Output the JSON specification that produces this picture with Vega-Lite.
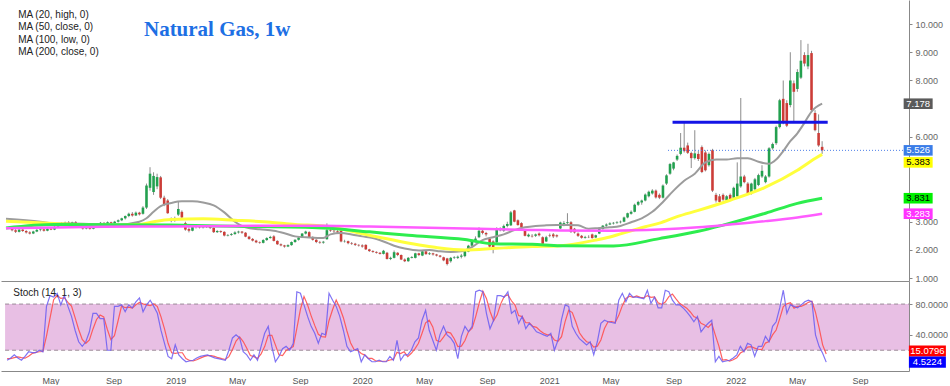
{
"$schema":"https://vega.github.io/schema/vega-lite/v6.json",
"padding":0,"spacing":0,"bounds":"flush",
"config":{"view":{"stroke":null},"axis":{"labelFont":"Liberation Sans","grid":false},"text":{"font":"Liberation Sans"}},
"datasets":{
"px":[
{"d":"2018-02-05","o":2.74,"h":2.78,"l":2.66,"c":2.70,"k":7,"s":9},
{"d":"2018-02-12","o":2.70,"h":2.74,"l":2.60,"c":2.64,"k":10,"s":9},
{"d":"2018-02-19","o":2.64,"h":2.76,"l":2.62,"c":2.72,"k":14,"s":10.3},
{"d":"2018-02-26","o":2.72,"h":2.75,"l":2.64,"c":2.67,"k":10,"s":11.3},
{"d":"2018-03-05","o":2.67,"h":2.70,"l":2.58,"c":2.62,"k":7,"s":10.3},
{"d":"2018-03-12","o":2.62,"h":2.66,"l":2.55,"c":2.58,"k":12,"s":9.7},
{"d":"2018-03-19","o":2.58,"h":2.68,"l":2.56,"c":2.65,"k":18,"s":12.3},
{"d":"2018-03-26","o":2.65,"h":2.74,"l":2.63,"c":2.71,"k":17,"s":15.7},
{"d":"2018-04-02","o":2.71,"h":2.76,"l":2.66,"c":2.73,"k":17,"s":17.3},
{"d":"2018-04-09","o":2.73,"h":2.75,"l":2.65,"c":2.68,"k":20,"s":18},
{"d":"2018-04-16","o":2.68,"h":2.78,"l":2.66,"c":2.75,"k":18,"s":18.3},
{"d":"2018-04-23","o":2.75,"h":2.79,"l":2.70,"c":2.72,"k":77,"s":38.3},
{"d":"2018-04-30","o":2.72,"h":2.86,"l":2.70,"c":2.82,"k":91,"s":62},
{"d":"2018-05-07","o":2.82,"h":2.92,"l":2.80,"c":2.88,"k":89,"s":85.7},
{"d":"2018-05-14","o":2.88,"h":2.98,"l":2.85,"c":2.95,"k":94,"s":91.3},
{"d":"2018-05-21","o":2.95,"h":3.00,"l":2.90,"c":2.97,"k":79,"s":87.3},
{"d":"2018-05-28","o":2.97,"h":3.02,"l":2.90,"c":2.93,"k":91,"s":88},
{"d":"2018-06-04","o":2.93,"h":3.00,"l":2.90,"c":2.98,"k":77,"s":82.3},
{"d":"2018-06-11","o":2.98,"h":3.02,"l":2.88,"c":2.90,"k":64,"s":77.3},
{"d":"2018-06-18","o":2.90,"h":2.94,"l":2.78,"c":2.80,"k":46,"s":62.3},
{"d":"2018-06-25","o":2.80,"h":2.84,"l":2.72,"c":2.76,"k":31,"s":47},
{"d":"2018-07-02","o":2.76,"h":2.82,"l":2.73,"c":2.79,"k":25,"s":34},
{"d":"2018-07-09","o":2.79,"h":2.82,"l":2.72,"c":2.75,"k":31,"s":29},
{"d":"2018-07-16","o":2.75,"h":2.84,"l":2.73,"c":2.80,"k":44,"s":33.3},
{"d":"2018-07-23","o":2.80,"h":2.95,"l":2.78,"c":2.92,"k":68,"s":47.7},
{"d":"2018-07-30","o":2.92,"h":2.99,"l":2.88,"c":2.96,"k":68,"s":60},
{"d":"2018-08-06","o":2.96,"h":2.98,"l":2.90,"c":2.93,"k":61,"s":65.7},
{"d":"2018-08-13","o":2.93,"h":3.01,"l":2.91,"c":2.98,"k":61,"s":63.3},
{"d":"2018-08-20","o":2.98,"h":3.00,"l":2.92,"c":2.95,"k":20,"s":47.3},
{"d":"2018-08-27","o":2.95,"h":3.03,"l":2.93,"c":3.00,"k":20,"s":33.7},
{"d":"2018-09-03","o":3.00,"h":3.08,"l":2.97,"c":3.05,"k":77,"s":39},
{"d":"2018-09-10","o":3.05,"h":3.14,"l":3.02,"c":3.12,"k":77,"s":58},
{"d":"2018-09-17","o":3.12,"h":3.22,"l":3.08,"c":3.20,"k":79,"s":77.7},
{"d":"2018-09-24","o":3.20,"h":3.32,"l":3.16,"c":3.28,"k":70,"s":75.3},
{"d":"2018-10-01","o":3.28,"h":3.34,"l":3.18,"c":3.22,"k":79,"s":76},
{"d":"2018-10-08","o":3.22,"h":3.36,"l":3.20,"c":3.32,"k":75,"s":74.7},
{"d":"2018-10-15","o":3.32,"h":3.35,"l":3.22,"c":3.26,"k":83,"s":79},
{"d":"2018-10-22","o":3.28,"h":3.55,"l":3.25,"c":3.50,"k":88,"s":82},
{"d":"2018-10-29","o":3.50,"h":4.35,"l":3.45,"c":4.28,"k":70,"s":80.3},
{"d":"2018-11-05","o":4.20,"h":4.93,"l":4.10,"c":4.70,"k":79,"s":79},
{"d":"2018-11-12","o":4.05,"h":4.75,"l":3.95,"c":4.62,"k":85,"s":78},
{"d":"2018-11-19","o":4.25,"h":4.70,"l":4.15,"c":4.58,"k":77,"s":80.3},
{"d":"2018-11-26","o":4.57,"h":4.62,"l":3.80,"c":3.85,"k":68,"s":76.7},
{"d":"2018-12-03","o":3.85,"h":3.92,"l":3.55,"c":3.62,"k":46,"s":63.7},
{"d":"2018-12-10","o":3.75,"h":3.80,"l":3.28,"c":3.30,"k":29,"s":47.7},
{"d":"2018-12-17","o":3.05,"h":3.15,"l":2.98,"c":3.10,"k":12,"s":29},
{"d":"2018-12-24","o":3.08,"h":3.18,"l":3.00,"c":3.05,"k":9,"s":16.7},
{"d":"2018-12-31","o":3.25,"h":3.70,"l":3.20,"c":3.45,"k":27,"s":16},
{"d":"2019-01-07","o":3.35,"h":3.40,"l":3.12,"c":3.15,"k":14,"s":16.7},
{"d":"2019-01-14","o":2.95,"h":3.00,"l":2.68,"c":2.72,"k":9,"s":16.7},
{"d":"2019-01-21","o":2.74,"h":2.80,"l":2.62,"c":2.68,"k":5,"s":9.3},
{"d":"2019-01-28","o":2.68,"h":2.85,"l":2.66,"c":2.82,"k":6,"s":6.7},
{"d":"2019-02-04","o":2.82,"h":2.90,"l":2.76,"c":2.86,"k":7,"s":6},
{"d":"2019-02-11","o":2.86,"h":2.88,"l":2.76,"c":2.80,"k":10,"s":7.7},
{"d":"2019-02-18","o":2.80,"h":2.87,"l":2.76,"c":2.84,"k":12,"s":9.7},
{"d":"2019-02-25","o":2.84,"h":2.88,"l":2.78,"c":2.82,"k":13,"s":11.7},
{"d":"2019-03-04","o":2.82,"h":2.86,"l":2.74,"c":2.78,"k":14,"s":13},
{"d":"2019-03-11","o":2.78,"h":2.80,"l":2.60,"c":2.63,"k":12,"s":13},
{"d":"2019-03-18","o":2.63,"h":2.70,"l":2.60,"c":2.67,"k":10,"s":12},
{"d":"2019-03-25","o":2.67,"h":2.69,"l":2.60,"c":2.64,"k":9,"s":10.3},
{"d":"2019-04-01","o":2.64,"h":2.66,"l":2.48,"c":2.51,"k":8,"s":9},
{"d":"2019-04-08","o":2.51,"h":2.56,"l":2.48,"c":2.53,"k":7,"s":8},
{"d":"2019-04-15","o":2.53,"h":2.60,"l":2.50,"c":2.56,"k":20,"s":11.7},
{"d":"2019-04-22","o":2.56,"h":2.66,"l":2.54,"c":2.62,"k":36,"s":21},
{"d":"2019-04-29","o":2.62,"h":2.68,"l":2.58,"c":2.65,"k":40,"s":32},
{"d":"2019-05-06","o":2.65,"h":2.67,"l":2.57,"c":2.61,"k":36,"s":37.3},
{"d":"2019-05-13","o":2.61,"h":2.63,"l":2.45,"c":2.47,"k":18,"s":31.3},
{"d":"2019-05-20","o":2.47,"h":2.50,"l":2.36,"c":2.39,"k":14,"s":22.7},
{"d":"2019-05-27","o":2.39,"h":2.42,"l":2.30,"c":2.33,"k":7,"s":13},
{"d":"2019-06-03","o":2.33,"h":2.36,"l":2.24,"c":2.27,"k":14,"s":11.7},
{"d":"2019-06-10","o":2.27,"h":2.30,"l":2.22,"c":2.25,"k":7,"s":9.3},
{"d":"2019-06-17","o":2.25,"h":2.38,"l":2.23,"c":2.35,"k":25,"s":15.3},
{"d":"2019-06-24","o":2.35,"h":2.45,"l":2.32,"c":2.42,"k":42,"s":24.7},
{"d":"2019-07-01","o":2.42,"h":2.50,"l":2.40,"c":2.46,"k":51,"s":39.3},
{"d":"2019-07-08","o":2.48,"h":2.52,"l":2.30,"c":2.32,"k":25,"s":39.3},
{"d":"2019-07-15","o":2.32,"h":2.34,"l":2.18,"c":2.20,"k":5,"s":27},
{"d":"2019-07-22","o":2.20,"h":2.23,"l":2.13,"c":2.16,"k":12,"s":14},
{"d":"2019-07-29","o":2.16,"h":2.18,"l":2.08,"c":2.12,"k":22,"s":13},
{"d":"2019-08-05","o":2.12,"h":2.20,"l":2.10,"c":2.17,"k":25,"s":19.7},
{"d":"2019-08-12","o":2.17,"h":2.30,"l":2.15,"c":2.28,"k":20,"s":22.3},
{"d":"2019-08-19","o":2.28,"h":2.38,"l":2.25,"c":2.36,"k":29,"s":24.7},
{"d":"2019-08-26","o":2.36,"h":2.47,"l":2.33,"c":2.44,"k":96,"s":48.3},
{"d":"2019-09-02","o":2.44,"h":2.60,"l":2.42,"c":2.58,"k":94,"s":73},
{"d":"2019-09-09","o":2.58,"h":2.68,"l":2.55,"c":2.65,"k":79,"s":89.7},
{"d":"2019-09-16","o":2.63,"h":2.66,"l":2.43,"c":2.46,"k":64,"s":79},
{"d":"2019-09-23","o":2.46,"h":2.48,"l":2.33,"c":2.36,"k":51,"s":64.7},
{"d":"2019-09-30","o":2.36,"h":2.38,"l":2.24,"c":2.28,"k":42,"s":52.3},
{"d":"2019-10-07","o":2.28,"h":2.32,"l":2.22,"c":2.26,"k":29,"s":40.7},
{"d":"2019-10-14","o":2.26,"h":2.32,"l":2.22,"c":2.29,"k":42,"s":37.7},
{"d":"2019-10-21","o":2.38,"h":2.94,"l":2.36,"c":2.70,"k":40,"s":37},
{"d":"2019-10-28","o":2.70,"h":2.76,"l":2.64,"c":2.68,"k":94,"s":58.7},
{"d":"2019-11-04","o":2.68,"h":2.74,"l":2.60,"c":2.66,"k":85,"s":73},
{"d":"2019-11-11","o":2.66,"h":2.70,"l":2.58,"c":2.62,"k":77,"s":85.3},
{"d":"2019-11-18","o":2.68,"h":2.72,"l":2.27,"c":2.30,"k":64,"s":75.3},
{"d":"2019-11-25","o":2.30,"h":2.36,"l":2.26,"c":2.31,"k":46,"s":62.3},
{"d":"2019-12-02","o":2.31,"h":2.33,"l":2.20,"c":2.24,"k":25,"s":45},
{"d":"2019-12-09","o":2.24,"h":2.28,"l":2.18,"c":2.22,"k":18,"s":29.7},
{"d":"2019-12-16","o":2.22,"h":2.25,"l":2.14,"c":2.18,"k":20,"s":21},
{"d":"2019-12-23","o":2.18,"h":2.20,"l":2.12,"c":2.16,"k":22,"s":20},
{"d":"2019-12-30","o":2.16,"h":2.20,"l":2.08,"c":2.12,"k":5,"s":15.7},
{"d":"2020-01-06","o":2.18,"h":2.20,"l":2.00,"c":2.02,"k":14,"s":13.7},
{"d":"2020-01-13","o":2.02,"h":2.04,"l":1.93,"c":1.96,"k":9,"s":9.3},
{"d":"2020-01-20","o":1.96,"h":1.99,"l":1.90,"c":1.93,"k":5,"s":9.3},
{"d":"2020-01-27","o":1.93,"h":1.95,"l":1.87,"c":1.90,"k":5,"s":6.3},
{"d":"2020-02-03","o":1.90,"h":1.92,"l":1.84,"c":1.86,"k":7,"s":5.7},
{"d":"2020-02-10","o":1.86,"h":2.00,"l":1.84,"c":1.97,"k":5,"s":5.7},
{"d":"2020-02-17","o":1.90,"h":1.93,"l":1.66,"c":1.68,"k":5,"s":5.7},
{"d":"2020-02-24","o":1.68,"h":1.76,"l":1.64,"c":1.72,"k":12,"s":7.3},
{"d":"2020-03-02","o":1.72,"h":1.98,"l":1.70,"c":1.92,"k":7,"s":8},
{"d":"2020-03-09","o":1.90,"h":1.92,"l":1.78,"c":1.82,"k":33,"s":17.3},
{"d":"2020-03-16","o":1.82,"h":1.84,"l":1.64,"c":1.66,"k":7,"s":15.7},
{"d":"2020-03-23","o":1.66,"h":1.70,"l":1.57,"c":1.60,"k":14,"s":18},
{"d":"2020-03-30","o":1.60,"h":1.75,"l":1.58,"c":1.72,"k":14,"s":11.7},
{"d":"2020-04-06","o":1.72,"h":1.78,"l":1.70,"c":1.75,"k":20,"s":16},
{"d":"2020-04-13","o":1.72,"h":1.90,"l":1.70,"c":1.88,"k":31,"s":21.7},
{"d":"2020-04-20","o":1.88,"h":1.90,"l":1.78,"c":1.82,"k":36,"s":29},
{"d":"2020-04-27","o":1.80,"h":1.98,"l":1.78,"c":1.95,"k":59,"s":42},
{"d":"2020-05-04","o":1.95,"h":1.97,"l":1.83,"c":1.85,"k":72,"s":55.7},
{"d":"2020-05-11","o":1.85,"h":1.92,"l":1.82,"c":1.88,"k":46,"s":59},
{"d":"2020-05-18","o":1.88,"h":1.90,"l":1.80,"c":1.84,"k":33,"s":50.3},
{"d":"2020-05-25","o":1.84,"h":1.86,"l":1.77,"c":1.80,"k":20,"s":33},
{"d":"2020-06-01","o":1.80,"h":1.82,"l":1.73,"c":1.76,"k":40,"s":31},
{"d":"2020-06-08","o":1.74,"h":1.76,"l":1.60,"c":1.63,"k":51,"s":37},
{"d":"2020-06-15","o":1.70,"h":1.72,"l":1.45,"c":1.50,"k":40,"s":43.7},
{"d":"2020-06-22","o":1.60,"h":1.75,"l":1.55,"c":1.72,"k":36,"s":42.3},
{"d":"2020-06-29","o":1.72,"h":1.78,"l":1.68,"c":1.74,"k":29,"s":35},
{"d":"2020-07-06","o":1.72,"h":1.80,"l":1.68,"c":1.76,"k":9,"s":24.7},
{"d":"2020-07-13","o":1.76,"h":1.86,"l":1.70,"c":1.80,"k":38,"s":25.3},
{"d":"2020-07-20","o":1.78,"h":2.00,"l":1.74,"c":1.96,"k":51,"s":32.7},
{"d":"2020-07-27","o":1.94,"h":2.18,"l":1.92,"c":2.15,"k":44,"s":44.3},
{"d":"2020-08-03","o":2.15,"h":2.36,"l":2.10,"c":2.30,"k":51,"s":48.7},
{"d":"2020-08-10","o":2.30,"h":2.48,"l":2.26,"c":2.40,"k":96,"s":63.7},
{"d":"2020-08-17","o":2.45,"h":2.80,"l":2.42,"c":2.68,"k":98,"s":81.7},
{"d":"2020-08-24","o":2.68,"h":2.72,"l":2.55,"c":2.60,"k":96,"s":96.7},
{"d":"2020-08-31","o":2.60,"h":2.64,"l":2.48,"c":2.55,"k":68,"s":87.3},
{"d":"2020-09-07","o":2.40,"h":2.44,"l":2.08,"c":2.12,"k":48,"s":70.7},
{"d":"2020-09-14","o":2.30,"h":2.34,"l":1.88,"c":2.06,"k":59,"s":58.3},
{"d":"2020-09-21","o":2.27,"h":2.80,"l":2.25,"c":2.77,"k":91,"s":66},
{"d":"2020-09-28","o":2.70,"h":2.80,"l":2.66,"c":2.75,"k":91,"s":80.3},
{"d":"2020-10-05","o":2.68,"h":2.90,"l":2.64,"c":2.85,"k":89,"s":90.3},
{"d":"2020-10-12","o":2.85,"h":3.00,"l":2.80,"c":2.92,"k":96,"s":92},
{"d":"2020-10-19","o":2.87,"h":3.38,"l":2.85,"c":3.33,"k":68,"s":84.3},
{"d":"2020-10-26","o":3.40,"h":3.42,"l":2.98,"c":3.00,"k":72,"s":78.7},
{"d":"2020-11-02","o":3.05,"h":3.08,"l":2.86,"c":2.88,"k":55,"s":65},
{"d":"2020-11-09","o":2.95,"h":2.98,"l":2.78,"c":2.80,"k":64,"s":63.7},
{"d":"2020-11-16","o":2.70,"h":2.74,"l":2.48,"c":2.50,"k":48,"s":55.7},
{"d":"2020-11-23","o":2.48,"h":2.58,"l":2.45,"c":2.54,"k":55,"s":55.7},
{"d":"2020-11-30","o":2.50,"h":2.56,"l":2.44,"c":2.48,"k":50,"s":51},
{"d":"2020-12-07","o":2.50,"h":2.58,"l":2.46,"c":2.55,"k":44,"s":49.7},
{"d":"2020-12-14","o":2.58,"h":2.62,"l":2.48,"c":2.52,"k":42,"s":45.3},
{"d":"2020-12-21","o":2.45,"h":2.48,"l":2.18,"c":2.22,"k":40,"s":42},
{"d":"2020-12-28","o":2.30,"h":2.50,"l":2.28,"c":2.45,"k":38,"s":40},
{"d":"2021-01-04","o":2.52,"h":2.58,"l":2.45,"c":2.50,"k":42,"s":40},
{"d":"2021-01-11","o":2.55,"h":2.60,"l":2.42,"c":2.48,"k":20,"s":33.3},
{"d":"2021-01-18","o":2.52,"h":2.55,"l":2.44,"c":2.48,"k":33,"s":31.7},
{"d":"2021-01-25","o":2.76,"h":3.00,"l":2.74,"c":2.97,"k":60,"s":37.7},
{"d":"2021-02-01","o":2.88,"h":3.02,"l":2.84,"c":2.95,"k":79,"s":57.3},
{"d":"2021-02-08","o":2.95,"h":3.30,"l":2.92,"c":2.98,"k":77,"s":72},
{"d":"2021-02-15","o":2.98,"h":3.02,"l":2.60,"c":2.64,"k":51,"s":69},
{"d":"2021-02-22","o":2.75,"h":2.78,"l":2.58,"c":2.62,"k":42,"s":56.7},
{"d":"2021-03-01","o":2.58,"h":2.62,"l":2.46,"c":2.50,"k":35,"s":42.7},
{"d":"2021-03-08","o":2.50,"h":2.53,"l":2.40,"c":2.43,"k":31,"s":36},
{"d":"2021-03-15","o":2.43,"h":2.50,"l":2.40,"c":2.46,"k":27,"s":31},
{"d":"2021-03-22","o":2.46,"h":2.52,"l":2.42,"c":2.45,"k":31,"s":29.7},
{"d":"2021-03-29","o":2.55,"h":2.58,"l":2.40,"c":2.42,"k":14,"s":24},
{"d":"2021-04-05","o":2.44,"h":2.54,"l":2.42,"c":2.52,"k":31,"s":25.3},
{"d":"2021-04-12","o":2.58,"h":2.76,"l":2.56,"c":2.74,"k":55,"s":33.3},
{"d":"2021-04-19","o":2.74,"h":2.88,"l":2.72,"c":2.86,"k":59,"s":48.3},
{"d":"2021-04-26","o":2.86,"h":2.94,"l":2.82,"c":2.90,"k":57,"s":57},
{"d":"2021-05-03","o":2.90,"h":2.98,"l":2.88,"c":2.94,"k":56,"s":57.3},
{"d":"2021-05-10","o":2.94,"h":2.99,"l":2.90,"c":2.96,"k":55,"s":56},
{"d":"2021-05-17","o":2.96,"h":3.02,"l":2.92,"c":2.98,"k":85,"s":65.3},
{"d":"2021-05-24","o":2.98,"h":3.04,"l":2.94,"c":3.00,"k":94,"s":78},
{"d":"2021-05-31","o":3.00,"h":3.18,"l":2.98,"c":3.15,"k":83,"s":87.3},
{"d":"2021-06-07","o":3.15,"h":3.32,"l":3.12,"c":3.30,"k":94,"s":90.3},
{"d":"2021-06-14","o":3.28,"h":3.40,"l":3.25,"c":3.35,"k":89,"s":88.7},
{"d":"2021-06-21","o":3.35,"h":3.64,"l":3.33,"c":3.60,"k":89,"s":90.7},
{"d":"2021-06-28","o":3.60,"h":3.74,"l":3.56,"c":3.70,"k":88,"s":88.7},
{"d":"2021-07-05","o":3.68,"h":3.78,"l":3.60,"c":3.75,"k":87,"s":88},
{"d":"2021-07-12","o":3.75,"h":4.00,"l":3.72,"c":3.96,"k":98,"s":91},
{"d":"2021-07-19","o":3.90,"h":4.10,"l":3.86,"c":4.06,"k":81,"s":88.7},
{"d":"2021-07-26","o":4.00,"h":4.15,"l":3.96,"c":4.10,"k":89,"s":89.3},
{"d":"2021-08-02","o":4.10,"h":4.14,"l":3.82,"c":3.86,"k":75,"s":81.7},
{"d":"2021-08-09","o":3.95,"h":4.00,"l":3.80,"c":3.85,"k":75,"s":79.7},
{"d":"2021-08-16","o":3.85,"h":4.32,"l":3.82,"c":4.28,"k":98,"s":82.7},
{"d":"2021-08-23","o":4.35,"h":4.68,"l":4.30,"c":4.64,"k":96,"s":89.7},
{"d":"2021-08-30","o":4.70,"h":5.08,"l":4.66,"c":5.04,"k":85,"s":93},
{"d":"2021-09-06","o":4.88,"h":5.12,"l":4.82,"c":5.10,"k":79,"s":86.7},
{"d":"2021-09-13","o":5.20,"h":5.38,"l":5.15,"c":5.33,"k":79,"s":81},
{"d":"2021-09-20","o":5.40,"h":6.14,"l":5.35,"c":5.62,"k":75,"s":77.7},
{"d":"2021-09-27","o":5.62,"h":6.50,"l":5.45,"c":5.50,"k":70,"s":74.7},
{"d":"2021-10-04","o":5.70,"h":5.80,"l":5.40,"c":5.44,"k":64,"s":69.7},
{"d":"2021-10-11","o":5.43,"h":5.48,"l":4.90,"c":5.25,"k":57,"s":63.7},
{"d":"2021-10-18","o":5.25,"h":6.24,"l":5.20,"c":5.42,"k":64,"s":61.7},
{"d":"2021-10-25","o":5.40,"h":5.50,"l":5.15,"c":5.22,"k":44,"s":55},
{"d":"2021-11-01","o":5.64,"h":5.70,"l":4.72,"c":4.76,"k":50,"s":52.7},
{"d":"2021-11-08","o":5.45,"h":5.52,"l":4.78,"c":4.82,"k":55,"s":49.7},
{"d":"2021-11-15","o":5.00,"h":5.45,"l":4.95,"c":5.40,"k":59,"s":54.7},
{"d":"2021-11-22","o":5.53,"h":5.58,"l":4.05,"c":4.10,"k":5,"s":39.7},
{"d":"2021-11-29","o":3.95,"h":4.02,"l":3.68,"c":3.75,"k":12,"s":25.3},
{"d":"2021-12-06","o":3.90,"h":3.98,"l":3.66,"c":3.70,"k":5,"s":7.3},
{"d":"2021-12-13","o":3.95,"h":4.00,"l":3.74,"c":3.78,"k":6,"s":7.7},
{"d":"2021-12-20","o":3.75,"h":3.94,"l":3.70,"c":3.90,"k":7,"s":6},
{"d":"2021-12-27","o":3.95,"h":4.00,"l":3.74,"c":3.78,"k":10,"s":7.7},
{"d":"2022-01-03","o":3.85,"h":4.24,"l":3.80,"c":4.20,"k":14,"s":10.3},
{"d":"2022-01-10","o":3.90,"h":5.10,"l":3.86,"c":4.35,"k":25,"s":16.3},
{"d":"2022-01-17","o":4.25,"h":7.38,"l":4.20,"c":4.60,"k":18,"s":19},
{"d":"2022-01-24","o":4.60,"h":4.66,"l":4.36,"c":4.40,"k":29,"s":24},
{"d":"2022-01-31","o":4.35,"h":4.40,"l":3.96,"c":4.00,"k":27,"s":24.7},
{"d":"2022-02-07","o":4.00,"h":4.38,"l":3.96,"c":4.35,"k":12,"s":22.7},
{"d":"2022-02-14","o":4.15,"h":4.55,"l":4.10,"c":4.50,"k":25,"s":21.3},
{"d":"2022-02-21","o":4.30,"h":4.70,"l":4.26,"c":4.65,"k":25,"s":20.7},
{"d":"2022-02-28","o":4.60,"h":5.00,"l":4.55,"c":4.80,"k":38,"s":29.3},
{"d":"2022-03-07","o":4.40,"h":4.65,"l":4.36,"c":4.60,"k":31,"s":31.3},
{"d":"2022-03-14","o":4.60,"h":5.64,"l":4.56,"c":5.60,"k":51,"s":40},
{"d":"2022-03-21","o":5.60,"h":5.80,"l":5.55,"c":5.75,"k":57,"s":46.3},
{"d":"2022-03-28","o":5.78,"h":6.40,"l":5.72,"c":6.35,"k":75,"s":61},
{"d":"2022-04-04","o":6.35,"h":7.35,"l":6.30,"c":7.30,"k":98,"s":76.7},
{"d":"2022-04-11","o":7.35,"h":8.00,"l":6.45,"c":6.50,"k":68,"s":80.3},
{"d":"2022-04-18","o":7.20,"h":7.30,"l":6.35,"c":6.40,"k":79,"s":81.7},
{"d":"2022-04-25","o":7.13,"h":9.00,"l":7.05,"c":8.00,"k":77,"s":74.7},
{"d":"2022-05-02","o":7.90,"h":8.00,"l":6.50,"c":7.60,"k":75,"s":77},
{"d":"2022-05-09","o":7.70,"h":8.40,"l":7.60,"c":8.30,"k":79,"s":77},
{"d":"2022-05-16","o":8.10,"h":9.43,"l":8.05,"c":8.70,"k":83,"s":79},
{"d":"2022-05-23","o":8.90,"h":9.00,"l":8.50,"c":8.60,"k":85,"s":82.3},
{"d":"2022-05-30","o":8.50,"h":9.30,"l":8.40,"c":8.90,"k":83,"s":83.7},
{"d":"2022-06-06","o":8.97,"h":9.05,"l":6.90,"c":6.95,"k":40,"s":69.3},
{"d":"2022-06-13","o":6.85,"h":6.95,"l":6.20,"c":6.24,"k":25,"s":49.3},
{"d":"2022-06-20","o":6.14,"h":6.80,"l":5.65,"c":5.70,"k":16,"s":27},
{"d":"2022-06-27","o":5.65,"h":5.85,"l":5.40,"c":5.526,"k":4.5224,"s":15.0796}
],
"ma20":[
{"d":"2018-01-24","v":3.10},{"d":"2018-04-02","v":3.00},{"d":"2018-04-30","v":2.94},{"d":"2018-06-25","v":2.93},{"d":"2018-09-03","v":2.90},{"d":"2018-10-15","v":3.00},{"d":"2018-10-29","v":3.12},{"d":"2018-11-12","v":3.35},{"d":"2018-11-26","v":3.55},{"d":"2018-12-17","v":3.66},{"d":"2019-01-07","v":3.72},{"d":"2019-01-28","v":3.72},{"d":"2019-02-18","v":3.68},{"d":"2019-03-11","v":3.58},{"d":"2019-04-01","v":3.33},{"d":"2019-04-22","v":3.00},{"d":"2019-05-13","v":2.80},{"d":"2019-06-10","v":2.73},{"d":"2019-07-08","v":2.68},{"d":"2019-07-29","v":2.59},{"d":"2019-08-19","v":2.48},{"d":"2019-09-16","v":2.44},{"d":"2019-10-14","v":2.42},{"d":"2019-10-28","v":2.55},{"d":"2019-11-18","v":2.60},{"d":"2019-12-09","v":2.55},{"d":"2019-12-30","v":2.48},{"d":"2020-01-20","v":2.42},{"d":"2020-02-10","v":2.30},{"d":"2020-03-02","v":2.15},{"d":"2020-03-23","v":2.05},{"d":"2020-04-20","v":1.98},{"d":"2020-05-11","v":2.00},{"d":"2020-06-01","v":1.95},{"d":"2020-06-22","v":1.93},{"d":"2020-07-13","v":1.95},{"d":"2020-08-03","v":2.10},{"d":"2020-08-24","v":2.35},{"d":"2020-09-14","v":2.45},{"d":"2020-10-05","v":2.55},{"d":"2020-10-26","v":2.70},{"d":"2020-11-16","v":2.80},{"d":"2020-12-07","v":2.85},{"d":"2020-12-28","v":2.87},{"d":"2021-01-18","v":2.88},{"d":"2021-02-08","v":2.88},{"d":"2021-03-01","v":2.87},{"d":"2021-03-22","v":2.75},{"d":"2021-04-12","v":2.78},{"d":"2021-05-03","v":2.80},{"d":"2021-05-24","v":2.85},{"d":"2021-06-14","v":2.98},{"d":"2021-07-05","v":3.12},{"d":"2021-07-26","v":3.35},{"d":"2021-08-16","v":3.70},{"d":"2021-09-06","v":4.10},{"d":"2021-09-27","v":4.45},{"d":"2021-10-18","v":4.70},{"d":"2021-11-08","v":5.10},{"d":"2021-11-29","v":5.20},{"d":"2021-12-20","v":5.20},{"d":"2022-01-10","v":5.25},{"d":"2022-01-31","v":5.25},{"d":"2022-02-21","v":5.12},{"d":"2022-03-14","v":5.05},{"d":"2022-03-28","v":5.20},{"d":"2022-04-11","v":5.50},{"d":"2022-04-25","v":5.85},{"d":"2022-05-09","v":6.13},{"d":"2022-05-23","v":6.50},{"d":"2022-06-06","v":6.90},{"d":"2022-06-27","v":7.178}
],
"ma50":[
{"d":"2018-01-24","v":3.02},{"d":"2018-04-30","v":2.94},{"d":"2018-08-06","v":2.87},{"d":"2018-10-15","v":2.90},{"d":"2018-11-12","v":3.00},{"d":"2018-12-17","v":3.08},{"d":"2019-02-18","v":3.10},{"d":"2019-04-22","v":3.05},{"d":"2019-07-01","v":2.98},{"d":"2019-08-19","v":2.90},{"d":"2019-10-14","v":2.85},{"d":"2020-01-13","v":2.52},{"d":"2020-05-18","v":2.10},{"d":"2020-07-20","v":2.00},{"d":"2020-09-21","v":2.06},{"d":"2020-11-30","v":2.12},{"d":"2021-01-25","v":2.15},{"d":"2021-04-05","v":2.35},{"d":"2021-05-03","v":2.46},{"d":"2021-05-24","v":2.57},{"d":"2021-07-12","v":2.82},{"d":"2021-08-09","v":2.95},{"d":"2021-09-13","v":3.18},{"d":"2021-10-25","v":3.40},{"d":"2021-12-27","v":3.76},{"d":"2022-03-07","v":4.22},{"d":"2022-05-09","v":4.82},{"d":"2022-06-13","v":5.24},{"d":"2022-06-27","v":5.383}
],
"ma100":[
{"d":"2018-01-24","v":2.78},{"d":"2018-04-30","v":2.90},{"d":"2018-12-17","v":2.88},{"d":"2019-04-22","v":2.84},{"d":"2019-10-14","v":2.78},{"d":"2020-01-13","v":2.64},{"d":"2020-03-30","v":2.52},{"d":"2020-07-20","v":2.37},{"d":"2020-09-14","v":2.22},{"d":"2020-11-30","v":2.20},{"d":"2021-01-25","v":2.15},{"d":"2021-05-10","v":2.14},{"d":"2021-08-09","v":2.40},{"d":"2021-10-25","v":2.66},{"d":"2021-12-13","v":2.88},{"d":"2022-03-07","v":3.30},{"d":"2022-05-09","v":3.65},{"d":"2022-06-27","v":3.831}
],
"ma200":[
{"d":"2018-01-24","v":2.77},{"d":"2018-08-06","v":2.82},{"d":"2018-12-17","v":2.83},{"d":"2019-04-22","v":2.85},{"d":"2019-10-14","v":2.86},{"d":"2020-01-13","v":2.83},{"d":"2020-07-20","v":2.76},{"d":"2020-11-30","v":2.71},{"d":"2021-01-25","v":2.69},{"d":"2021-05-10","v":2.68},{"d":"2021-08-09","v":2.72},{"d":"2021-10-25","v":2.80},{"d":"2021-12-27","v":2.90},{"d":"2022-03-07","v":3.02},{"d":"2022-05-09","v":3.15},{"d":"2022-06-27","v":3.283}
]
},
"vconcat":[
{
"width":908,"height":281,
"encoding":{
"x":{"type":"temporal","scale":{"domain":[{"year":2018,"month":1,"date":24},{"year":2022,"month":12,"date":6}]},"axis":{"labels":false,"ticks":false,"title":null,"domainColor":"#8a8a8a","orient":"bottom"}},
"y":{"type":"quantitative","scale":{"domain":[0.9,10.85],"nice":false,"zero":false},"axis":{"orient":"right","values":[1,2,3,6,8,9,10],"format":".3f","title":null,"tickSize":3,"tickColor":"#888","domainColor":"#888","labelColor":"#666","labelFontSize":9,"labelPadding":3,"labelOverlap":false,"labelFlush":false}}
},
"layer":[
{"data":{"name":"px"},"mark":{"type":"rule","color":"#8c8c8c","strokeWidth":1},
"encoding":{"x":{"field":"d"},"y":{"field":"h"},"y2":{"field":"l"}}},
{"data":{"name":"px"},"mark":{"type":"bar","width":2.6},
"encoding":{"x":{"field":"d"},"y":{"field":"o"},"y2":{"field":"c"},
"color":{"condition":{"test":"datum.c >= datum.o","value":"#23a04f"},"value":"#cc3d38"}}},
{"data":{"name":"ma20"},"mark":{"type":"line","color":"#9c9c9c","strokeWidth":2,"interpolate":"monotone"},"encoding":{"x":{"field":"d"},"y":{"field":"v"}}},
{"data":{"name":"ma50"},"mark":{"type":"line","color":"#ffff3c","strokeWidth":3,"interpolate":"monotone"},"encoding":{"x":{"field":"d"},"y":{"field":"v"}}},
{"data":{"name":"ma100"},"mark":{"type":"line","color":"#2ded4e","strokeWidth":3,"interpolate":"monotone"},"encoding":{"x":{"field":"d"},"y":{"field":"v"}}},
{"data":{"name":"ma200"},"mark":{"type":"line","color":"#ff5cff","strokeWidth":2.5,"interpolate":"monotone"},"encoding":{"x":{"field":"d"},"y":{"field":"v"}}},
{"data":{"values":[{"a":"2021-09-04","b":"2022-07-08","v":6.52}]},"mark":{"type":"rule","color":"#1414e6","strokeWidth":3},"encoding":{"x":{"field":"a"},"x2":{"field":"b"},"y":{"field":"v"}}},
{"data":{"values":[{"a":"2021-08-26","b":"2022-12-06","v":5.526}]},"mark":{"type":"rule","color":"#4d7fe8","strokeWidth":1,"strokeDash":[1,2]},"encoding":{"x":{"field":"a"},"x2":{"field":"b"},"y":{"field":"v"}}},
{"data":{"values":[{"lab":"7.178","v":7.178,"t":"2023-01-03"},{"lab":"5.526","v":5.526,"t":"2023-01-03"},{"lab":"3.831","v":3.831,"t":"2023-01-03"},{"lab":"3.283","v":3.283,"t":"2023-01-03"}]},
"mark":{"type":"point","filled":true,"opacity":1,"shape":"M-1,-0.365H1V0.365H-1Z","size":841,"strokeWidth":0},
"encoding":{"x":{"field":"t"},"y":{"field":"v"},
"color":{"field":"lab","type":"nominal","scale":{"domain":["7.178","5.526","5.383","3.831","3.283"],"range":["#5a5a5a","#3b7de8","#ffff00","#00f000","#ff33ff"]},"legend":null}}},
{"data":{"values":[{"lab":"5.383","v":5.383,"t":"2023-01-03"}]},
"mark":{"type":"point","filled":true,"opacity":1,"shape":"M-1,-0.365H1V0.365H-1Z","size":841,"strokeWidth":0,"yOffset":8},
"encoding":{"x":{"field":"t"},"y":{"field":"v"},
"color":{"field":"lab","type":"nominal","legend":null}}},
{"data":{"values":[{"lab":"7.178","v":7.178,"t":"2023-01-03"},{"lab":"5.526","v":5.526,"t":"2023-01-03"},{"lab":"3.831","v":3.831,"t":"2023-01-03"},{"lab":"3.283","v":3.283,"t":"2023-01-03"}]},
"mark":{"type":"text","align":"center","baseline":"middle","fontSize":9.5},
"encoding":{"x":{"field":"t"},"y":{"field":"v"},"text":{"field":"lab"},
"color":{"condition":{"test":"datum.lab=='3.831'","value":"#000000"},"value":"#ffffff"}}},
{"data":{"values":[{"lab":"5.383","v":5.383,"t":"2023-01-03"}]},
"mark":{"type":"text","align":"center","baseline":"middle","fontSize":9.5,"color":"#000000","yOffset":8},
"encoding":{"x":{"field":"t"},"y":{"field":"v"},"text":{"field":"lab"}}},
{"data":{"values":[{"t":"2018-10-24","v":9.79}]},"mark":{"type":"text","align":"left","baseline":"middle","font":"Liberation Serif","fontSize":21,"fontWeight":"bold","color":"#1d6fe4"},
"encoding":{"x":{"field":"t"},"y":{"field":"v"},"text":{"value":"Natural Gas, 1w"}}},
{"data":{"values":[{"t":"2018-02-17","v":10.5}]},"mark":{"type":"text","align":"left","baseline":"top","fontSize":10,"lineHeight":12.4,"color":"#222222"},
"encoding":{"x":{"field":"t"},"y":{"field":"v"},"text":{"value":["MA (20, high, 0)","MA (50, close, 0)","MA (100, low, 0)","MA (200, close, 0)"]}}}
]
},
{
"width":908,"height":90,
"encoding":{
"x":{"type":"temporal","scale":{"domain":[{"year":2018,"month":1,"date":24},{"year":2022,"month":12,"date":6}]},"axis":{"orient":"bottom","title":null,"ticks":false,"domainColor":"#888","labelColor":"#555","labelFontSize":9,"labelPadding":5,"labelOverlap":false,"values":[{"year":2018,"month":5,"date":1},{"year":2018,"month":9,"date":1},{"year":2019,"month":1,"date":1},{"year":2019,"month":5,"date":1},{"year":2019,"month":9,"date":1},{"year":2020,"month":1,"date":1},{"year":2020,"month":5,"date":1},{"year":2020,"month":9,"date":1},{"year":2021,"month":1,"date":1},{"year":2021,"month":5,"date":1},{"year":2021,"month":9,"date":1},{"year":2022,"month":1,"date":1},{"year":2022,"month":5,"date":1},{"year":2022,"month":9,"date":1}],"labelExpr":"month(datum.value)==0 ? timeFormat(datum.value,'%Y') : timeFormat(datum.value,'%b')"}},
"y":{"type":"quantitative","scale":{"domain":[-7,110],"nice":false,"zero":false},"axis":{"orient":"right","values":[40,80],"format":".4f","title":null,"tickSize":3,"tickColor":"#888","domainColor":"#888","labelColor":"#666","labelFontSize":9,"labelPadding":3}}
},
"layer":[
{"data":{"values":[{"a":"2018-02-01","b":"2022-12-06","lo":20,"hi":80}]},"mark":{"type":"rect","color":"#e8bfe4"},
"encoding":{"x":{"field":"a"},"x2":{"field":"b"},"y":{"field":"lo"},"y2":{"field":"hi"}}},
{"data":{"values":[{"a":"2018-02-01","b":"2022-12-06","lv":20},{"a":"2018-02-01","b":"2022-12-06","lv":80}]},"mark":{"type":"rule","color":"#9b8b98","strokeDash":[4,3],"strokeWidth":1},
"encoding":{"x":{"field":"a"},"x2":{"field":"b"},"y":{"field":"lv"}}},
{"data":{"name":"px"},"mark":{"type":"line","color":"#ff5050","strokeWidth":1.2,"opacity":0.9},
"encoding":{"x":{"field":"d"},"y":{"field":"s"}}},
{"data":{"name":"px"},"mark":{"type":"line","color":"#6a5cf2","strokeWidth":1.2,"opacity":0.85},
"encoding":{"x":{"field":"d"},"y":{"field":"k"}}},
{"data":{"values":[{"lab":"15.0796","v":15.0796,"t":"2023-01-11"}]},
"mark":{"type":"point","filled":true,"opacity":1,"shape":"M-1,-0.3H1V0.3H-1Z","size":1369,"strokeWidth":0,"color":"#ff0000","yOffset":-3},
"encoding":{"x":{"field":"t"},"y":{"field":"v"}}},
{"data":{"values":[{"lab":"4.5224","v":4.5224,"t":"2023-01-11"}]},
"mark":{"type":"point","filled":true,"opacity":1,"shape":"M-1,-0.3H1V0.3H-1Z","size":1369,"strokeWidth":0,"color":"#0000ff"},
"encoding":{"x":{"field":"t"},"y":{"field":"v"}}},
{"data":{"values":[{"lab":"15.0796","v":15.0796,"t":"2023-01-11"}]},
"mark":{"type":"text","align":"center","baseline":"middle","fontSize":9.5,"color":"#ffffff","yOffset":-3},
"encoding":{"x":{"field":"t"},"y":{"field":"v"},"text":{"field":"lab"}}},
{"data":{"values":[{"lab":"4.5224","v":4.5224,"t":"2023-01-11"}]},
"mark":{"type":"text","align":"center","baseline":"middle","fontSize":9.5,"color":"#ffffff"},
"encoding":{"x":{"field":"t"},"y":{"field":"v"},"text":{"field":"lab"}}},
{"data":{"values":[{"t":"2018-02-17","v":94.7}]},"mark":{"type":"text","align":"left","baseline":"middle","fontSize":10,"color":"#222222"},
"encoding":{"x":{"field":"t"},"y":{"field":"v"},"text":{"value":"Stoch (14, 1, 3)"}}}
]
}
]
}
